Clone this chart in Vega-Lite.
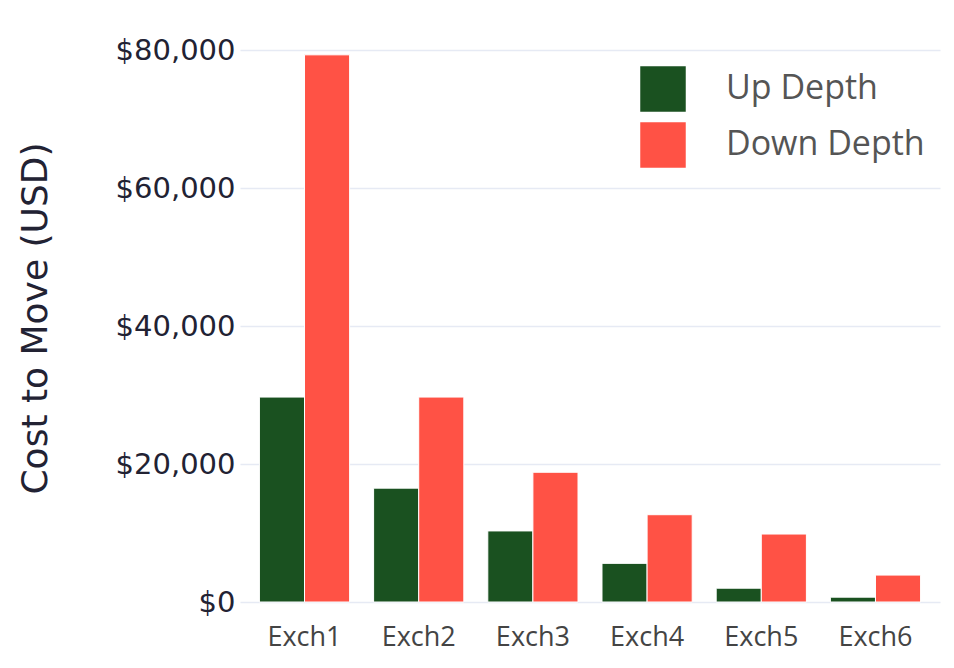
{
  "$schema": "https://vega.github.io/schema/vega-lite/v6.json",
  "autosize": {"type": "none"},
  "padding": {"left": 240, "top": 50, "right": 14, "bottom": 66},
  "width": 700,
  "height": 552,
  "background": "white",
  "config": {
    "font": "Open Sans",
    "view": {"stroke": null}
  },
  "data": {
    "values": [
      {"exchange": "Exch1", "series": "Up Depth", "cost": 29700},
      {"exchange": "Exch1", "series": "Down Depth", "cost": 79300},
      {"exchange": "Exch2", "series": "Up Depth", "cost": 16500},
      {"exchange": "Exch2", "series": "Down Depth", "cost": 29700},
      {"exchange": "Exch3", "series": "Up Depth", "cost": 10300},
      {"exchange": "Exch3", "series": "Down Depth", "cost": 18800},
      {"exchange": "Exch4", "series": "Up Depth", "cost": 5600},
      {"exchange": "Exch4", "series": "Down Depth", "cost": 12650},
      {"exchange": "Exch5", "series": "Up Depth", "cost": 2000},
      {"exchange": "Exch5", "series": "Down Depth", "cost": 9850},
      {"exchange": "Exch6", "series": "Up Depth", "cost": 700},
      {"exchange": "Exch6", "series": "Down Depth", "cost": 3900}
    ]
  },
  "mark": {"type": "bar", "stroke": "white", "strokeWidth": 1},
  "encoding": {
    "x": {
      "field": "exchange",
      "type": "nominal",
      "sort": null,
      "scale": {"paddingInner": 0.21, "paddingOuter": 0.17},
      "axis": {
        "title": null,
        "labelAngle": 0,
        "labelFontSize": 27,
        "labelColor": "#444444",
        "labelPadding": 22,
        "ticks": false,
        "domain": false,
        "grid": false
      }
    },
    "xOffset": {"field": "series", "type": "nominal", "sort": ["Up Depth", "Down Depth"]},
    "y": {
      "field": "cost",
      "type": "quantitative",
      "scale": {"domain": [0, 80000], "nice": false},
      "axis": {
        "title": "Cost to Move (USD)",
        "titleFont": "DejaVu Sans",
        "titleFontSize": 36,
        "titleFontWeight": "normal",
        "titleColor": "#222233",
        "titleAngle": 270,
        "titleAlign": "center",
        "titleBaseline": "middle",
        "titleX": -205,
        "titleY": 268,
        "values": [0, 20000, 40000, 60000, 80000],
        "format": "$,.0f",
        "labelFont": "DejaVu Sans",
        "labelFontSize": 29,
        "labelColor": "#222233",
        "labelPadding": 5,
        "ticks": false,
        "domain": false,
        "grid": true,
        "gridColor": "#e6eaf4",
        "gridWidth": 1.5
      }
    },
    "color": {
      "field": "series",
      "type": "nominal",
      "sort": ["Up Depth", "Down Depth"],
      "scale": {"domain": ["Up Depth", "Down Depth"], "range": ["#1a5120", "#ff5245"]},
      "legend": {
        "title": null,
        "orient": "none",
        "legendX": 400,
        "legendY": 16,
        "padding": 0,
        "symbolType": "square",
        "symbolSize": 2070,
        "symbolStrokeWidth": 0,
        "labelFontSize": 34,
        "labelColor": "#555555",
        "labelOffset": 40,
        "labelBaseline": "middle",
        "labelDy": 4,
        "rowPadding": 10,
        "labelLimit": 400
      }
    }
  }
}
